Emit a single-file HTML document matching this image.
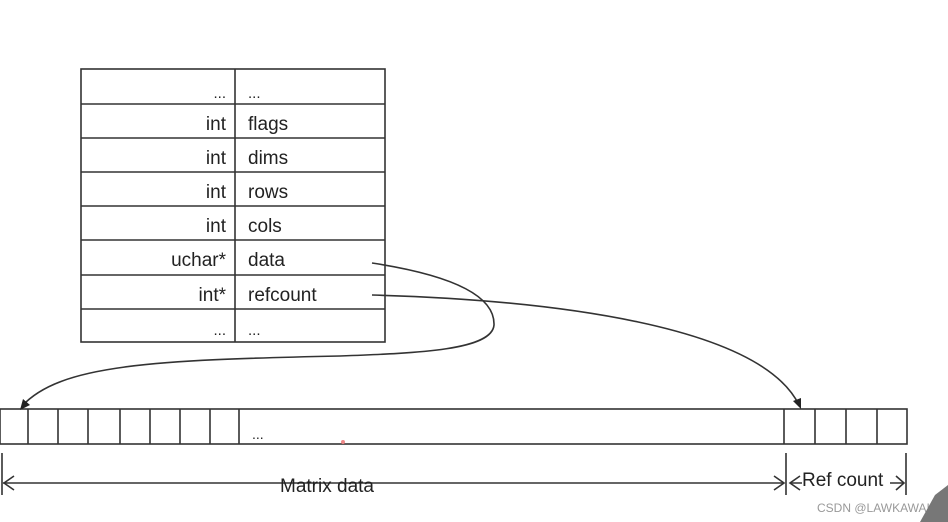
<!DOCTYPE html>
<html><head><style>
body{margin:0;background:#fff;}
svg{display:block;}
text{font-family:"Liberation Sans",sans-serif;fill:#222;}
</style></head><body>
<svg width="948" height="522" viewBox="0 0 948 522">
<g stroke="#333" stroke-width="1.6" fill="none">
<rect x="81" y="69" width="304" height="273"/>
<line x1="235" y1="69" x2="235" y2="342"/>
<line x1="81" y1="104" x2="385" y2="104"/>
<line x1="81" y1="138" x2="385" y2="138"/>
<line x1="81" y1="172" x2="385" y2="172"/>
<line x1="81" y1="206" x2="385" y2="206"/>
<line x1="81" y1="240" x2="385" y2="240"/>
<line x1="81" y1="275" x2="385" y2="275"/>
<line x1="81" y1="309" x2="385" y2="309"/>
<rect x="0" y="409" width="907" height="35"/>
<path d="M28 409V444M58 409V444M88 409V444M120 409V444M150 409V444M180 409V444M210 409V444M239 409V444M784 409V444M815 409V444M846 409V444M877 409V444"/>
<path d="M2 453V495M786 453V495M906 453V495"/>
<path d="M3 483H784M791 483H802M890 483H904"/>
<path d="M14 476L4 483L14 490M774 476L784 483L774 490M800 476L790 483L800 490M896 476L904 483L896 490"/>
<path d="M372 263C450 275 495 295 494 325C492 350 420 353 340 356C150 360 60 365 22 406"/>
<path d="M372 295C550 300 760 325 799 405"/>
</g>
<path d="M20 410L23 399L30 405Z" fill="#222"/>
<path d="M801 409L793 401L801 398Z" fill="#222"/>
<g font-size="19" text-anchor="end">
<text x="226" y="98" font-size="15">...</text>
<text x="226" y="130">int</text>
<text x="226" y="164">int</text>
<text x="226" y="198">int</text>
<text x="226" y="232">int</text>
<text x="226" y="266">uchar*</text>
<text x="226" y="301">int*</text>
<text x="226" y="335" font-size="15">...</text>
</g>
<g font-size="19">
<text x="248" y="98" font-size="15">...</text>
<text x="248" y="130">flags</text>
<text x="248" y="164">dims</text>
<text x="248" y="198">rows</text>
<text x="248" y="232">cols</text>
<text x="248" y="266">data</text>
<text x="248" y="301">refcount</text>
<text x="248" y="335" font-size="15">...</text>
<text x="252" y="439" font-size="14">...</text>
<text x="280" y="492">Matrix data</text>
<text x="802" y="486">Ref count</text>
</g>
<circle cx="343" cy="442" r="2" fill="#e88"/>
<text x="817" y="512" font-size="12" style="fill:#999">CSDN @LAWKAWAI</text>
<path d="M920 522L935 495L948 485L948 522Z" fill="#777"/>
</svg>
</body></html>
